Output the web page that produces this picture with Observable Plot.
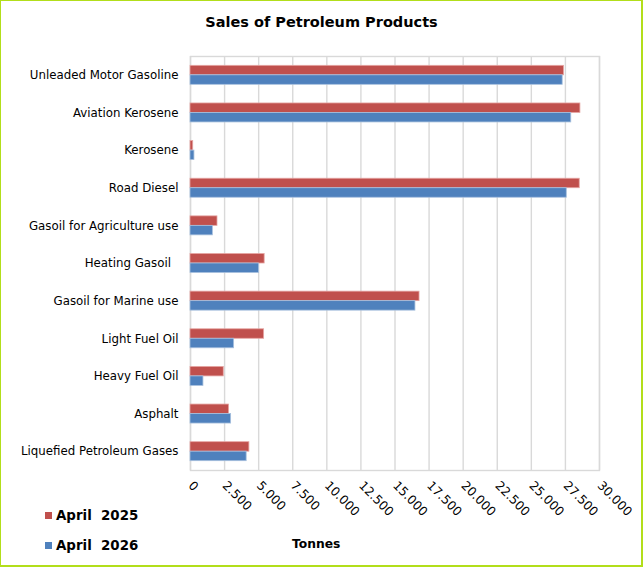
<!DOCTYPE html>
<html>
<head>
<meta charset="utf-8">
<script src="https://cdn.jsdelivr.net/npm/d3@7"></script>
<script src="https://cdn.jsdelivr.net/npm/@observablehq/plot@0.6"></script>
<style>
  html, body { margin: 0; padding: 0; background: #fff; }
  #chart { position: relative; width: 643px; height: 567px; overflow: hidden; font-family: "DejaVu Sans", Verdana, sans-serif; }
  #chart svg { position: absolute; left: 0; top: 0; }
  #chart svg [aria-label="x-axis tick label"] { font-size: 12.3px; }
  #frame { position: absolute; left: 0; top: 0; width: 643px; height: 567px; box-sizing: border-box;
           border-style: solid; border-color: #b2de1a; border-width: 1px 2px 2px 1px; pointer-events: none; }
  #title { position: absolute; left: 0; width: 643px; top: 14px; text-align: center; font-weight: bold; font-size: 14.5px; color: #000; }
  .legend { position: absolute; left: 45px; font-weight: bold; font-size: 13.4px; white-space: pre; color: #000; }
  .legend span.sw { display: inline-block; width: 7px; height: 7px; margin-right: 4px; vertical-align: 1px; }
  #unit { position: absolute; left: 292px; top: 537px; font-weight: bold; font-size: 12.3px; color: #000; }
</style>
</head>
<body>
<div id="chart">
  <div id="title">Sales of Petroleum Products</div>
  <div class="legend" id="leg0" style="top:508px"></div>
  <div class="legend" id="leg1" style="top:538px"></div>
  <div id="unit">Tonnes</div>
  <div id="frame"></div>
</div>
<script>
// Product categories, top to bottom
const products = [
  "Unleaded Motor Gasoline",
  "Aviation Kerosene",
  "Kerosene",
  "Road Diesel",
  "Gasoil for Agriculture use",
  "Heating Gasoil\u00a0\u00a0",
  "Gasoil for Marine use",
  "Light Fuel Oil",
  "Heavy Fuel Oil",
  "Asphalt",
  "Liquefied Petroleum Gases"
];

// Series names
const seriesNames = ["April  2025", "April  2026"];
const seriesColors = ["#c0504d", "#4f81bd"];

// Sales in tonnes
const sales2025 = [27400, 28600, 200, 28550, 1980, 5440, 16800, 5400, 2440, 2830, 4320];
const sales2026 = [27300, 27930, 290, 27600, 1640, 5030, 16500, 3200, 950, 2980, 4120];

// Axis ticks
const xTicks = [0, 2500, 5000, 7500, 10000, 12500, 15000, 17500, 20000, 22500, 25000, 27500, 30000];

const rows2025 = products.map((p, i) => ({product: p, value: sales2025[i]}));
const rows2026 = products.map((p, i) => ({product: p, value: sales2026[i]}));

// Thousands separated with a dot
const fmt = d3.formatLocale({decimal: ",", thousands: ".", grouping: [3], currency: ["", ""]}).format(",");

const W = 643, H = 567;
const mTop = 56, mBottom = 97, mLeft = 190, mRight = 44;
const band = (H - mTop - mBottom) / products.length;
const barH = 9.5;
const pad = (band - 2 * barH) / 2;

const plot = Plot.plot({
  width: W,
  height: H,
  marginTop: mTop,
  marginBottom: mBottom,
  marginLeft: mLeft,
  marginRight: mRight,
  style: {fontFamily: "DejaVu Sans, Verdana, sans-serif", fontSize: "11.8px", color: "#000", background: "transparent"},
  x: {domain: [0, 30000], ticks: xTicks, tickFormat: fmt, label: null, tickRotate: 45, tickSize: 0, tickPadding: 13},
  y: {domain: products, padding: 0, round: false, label: null, tickSize: 0, tickPadding: 12},
  marks: [
    Plot.ruleX(xTicks, {stroke: "#d9d9d9", strokeWidth: 1.4}),
    Plot.frame({stroke: "#d9d9d9", strokeWidth: 1.4}),
    Plot.barX(rows2025, {x: "value", y: "product", fill: seriesColors[0], stroke: "#e6a6a4", strokeWidth: 0.8,
      insetTop: pad, insetBottom: band - pad - barH}),
    Plot.barX(rows2026, {x: "value", y: "product", fill: seriesColors[1], stroke: "#a7c0de", strokeWidth: 0.8,
      insetTop: pad + barH, insetBottom: pad})
  ]
});

const chart = document.getElementById("chart");
chart.insertBefore(plot, document.getElementById("frame"));

// Legend entries
seriesNames.forEach((name, i) => {
  const el = document.getElementById("leg" + i);
  const sw = document.createElement("span");
  sw.className = "sw";
  sw.style.background = seriesColors[i];
  el.appendChild(sw);
  el.appendChild(document.createTextNode(name));
});
</script>
</body>
</html>
